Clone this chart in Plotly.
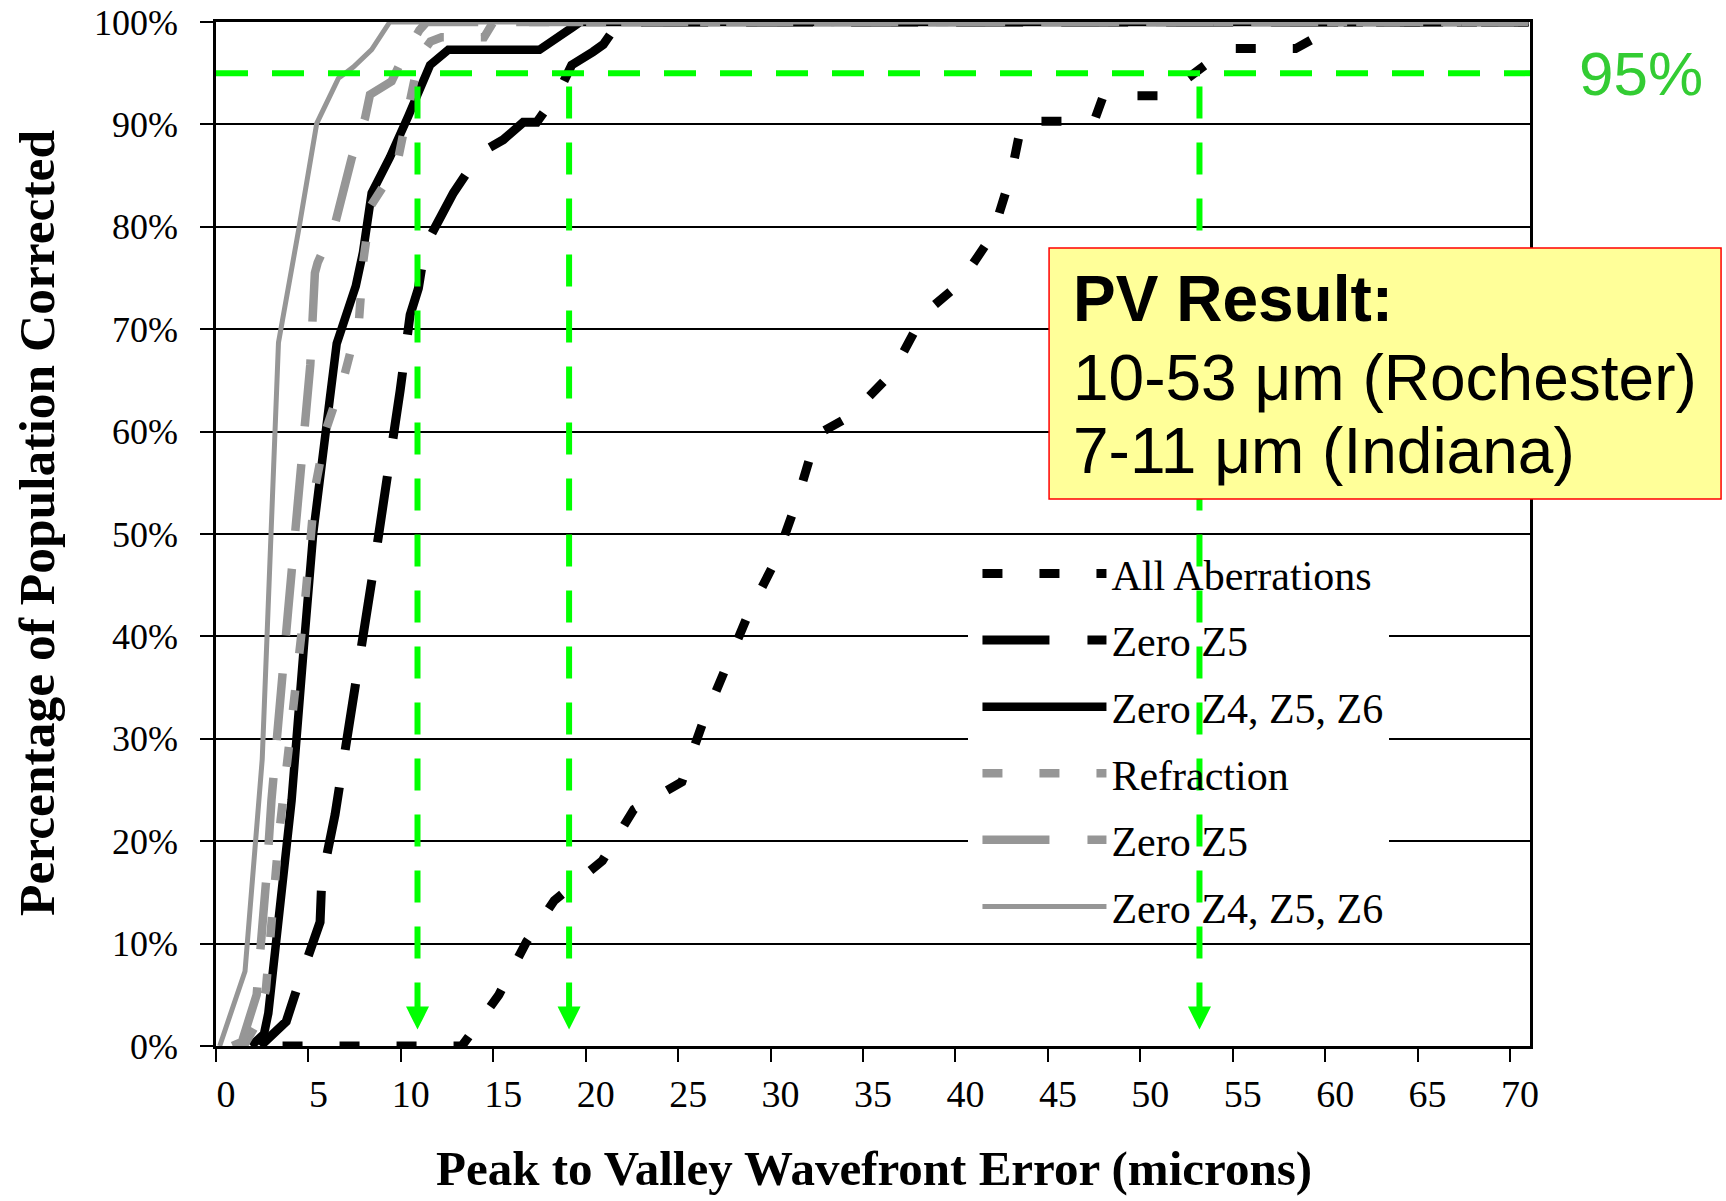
import plotly.graph_objects as go

# ---------------- data ----------------
series_names = ["All Aberrations", "Zero Z5", "Zero Z4, Z5, Z6",
                "Refraction", "Zero Z5", "Zero Z4, Z5, Z6"]

# Rochester – all aberrations (black, short dash)
all_ab_x = [3.6, 13.3, 15.3, 16.8, 18.3, 20.9, 22.6, 25.2, 26.3, 27.5, 28.8, 30.3, 31.4,
            32.5, 34.3, 36.6, 38.3, 40.2, 42.0, 43.0, 43.6, 47.5, 48.0, 51.3, 54.7,
            58.4, 60.5, 61.0, 71.0]
all_ab_y = [0, 0, 5.0, 10.2, 14.2, 18.1, 23.1, 25.8, 31.4, 36.8, 42.2, 47.5, 53.1,
            59.7, 61.5, 65.8, 71.5, 74.4, 79.2, 85.0, 90.3, 90.3, 92.8, 92.8, 97.4,
            97.4, 99.5, 100, 100]

# Rochester – zero Z5 (black, long dash)
roc_z5_x = [2.4, 3.5, 3.8, 4.45, 5.63, 5.72, 6.44, 8.5, 9.41, 9.96, 10.5, 10.95, 11.31,
            12.84, 14.28, 15.54, 16.62, 17.35, 18.6, 19.24, 20.4, 20.95, 21.8, 71.0]
roc_z5_y = [0, 1.7, 2.4, 6.0, 12.1, 16.2, 22.6, 46.3, 56.8, 64.0, 71.4, 74.0, 78.1,
            83.3, 87.2, 88.5, 90.2, 90.2, 93.4, 95.8, 97.1, 97.8, 100, 100]

# Rochester – zero Z4, Z5, Z6 (black, solid)
roc_z456_x = [1.9, 2.6, 2.83, 4.09, 4.81, 5.26, 6.15, 6.53, 7.56, 7.95, 8.42, 9.41,
              10.4, 11.04, 11.58, 12.57, 17.5, 19.3, 19.7, 71.0]
roc_z456_y = [0, 1.2, 3.2, 24.0, 40.3, 50.1, 63.1, 68.6, 74.2, 77.5, 83.3, 86.8,
              90.8, 93.7, 95.8, 97.3, 97.3, 99.5, 100, 100]

# Indiana – refraction (grey, short dash)
ind_refr_x = [1.5, 2.3, 2.7, 3.1, 3.4, 3.78, 4.14, 4.5, 4.81, 5.09, 5.36, 5.99, 6.96,
              7.74, 7.97, 8.39, 9.78, 10.4, 11.0, 11.6, 12.2, 14.5, 15.0, 71.0]
ind_refr_y = [0, 2.5, 5.5, 15.2, 20.5, 26.6, 32.1, 37.8, 43.3, 49.0, 54.5, 60.4, 65.6,
              71.0, 76.7, 82.1, 86.0, 91.5, 96.6, 98.1, 98.5, 98.5, 100, 100]

# Indiana – zero Z5 (grey, long dash)
ind_z5_x = [0.9, 1.4, 2.2, 2.45, 2.75, 3.0, 3.3, 3.9, 4.4, 4.8, 5.1, 5.35, 5.5, 6.44,
            7.34, 8.06, 8.33, 9.5, 10.0, 11.0, 11.4, 71.0]
ind_z5_y = [0, 0.4, 5.0, 10.0, 17.0, 24.0, 31.0, 42.5, 52.5, 61.0, 66.5, 75.5, 76.5,
            80.3, 86.7, 90.6, 92.9, 94.2, 96.1, 99.2, 100, 100]

# Indiana – zero Z4, Z5, Z6 (grey, solid)
ind_z456_x = [0.2, 1.57, 2.5, 3.38, 4.5, 5.45, 6.62, 7.43, 8.42, 9.4, 71.0]
ind_z456_y = [0, 7.3, 28.0, 68.7, 80.0, 90.1, 94.5, 95.6, 97.3, 100, 100]

# 95 % read-off lines
level_95 = 95
pv95_x = [10.9, 19.1, 53.2]

x_ticks = list(range(0, 75, 5))
y_ticks = list(range(0, 110, 10))
y_tick_text = [f"{v}%" for v in y_ticks]

box_lines = ["<b>PV Result:</b>", "10-53 μm (Rochester)", "7-11 μm (Indiana)"]

# ---------------- styling ----------------
BLACK = "#000000"
GREY = "#969696"
GREEN = "#00FF00"
SHORT = "20px,37px"
LONG = "67px,38px"

series = [
    (all_ab_x, all_ab_y, BLACK, SHORT, 9),
    (roc_z5_x, roc_z5_y, BLACK, LONG, 9),
    (roc_z456_x, roc_z456_y, BLACK, "solid", 8.5),
    (ind_refr_x, ind_refr_y, GREY, SHORT, 8.5),
    (ind_z5_x, ind_z5_y, GREY, LONG, 8.5),
    (ind_z456_x, ind_z456_y, GREY, "solid", 5),
]

fig = go.Figure()
for i, (xs, ys, col, dash, w) in enumerate(series):
    fig.add_trace(go.Scatter(
        x=xs, y=ys, mode="lines", name=series_names[i],
        legendgroup=f"g{i}",
        line=dict(color=col, dash=dash, width=w),
        hoverinfo="skip",
    ))

# arrow heads at the bottom of the read-off lines
fig.add_trace(go.Scatter(
    x=pv95_x, y=[1.6] * len(pv95_x), mode="markers", showlegend=False,
    marker=dict(symbol="arrow-down", size=23, color=GREEN, line=dict(width=0)),
    hoverinfo="skip",
))

shapes = []
# white backing of the legend (hides grid lines)
shapes.append(dict(type="rect", xref="paper", yref="paper",
                   x0=0.5723, x1=0.8927, y0=0.1016, y1=0.494,
                   fillcolor="white", line=dict(width=0), layer="above"))
# 95 % horizontal line
shapes.append(dict(type="line", xref="paper", yref="y", x0=0, x1=1,
                   y0=level_95, y1=level_95,
                   line=dict(color=GREEN, width=6, dash="32px,24px"), layer="above"))
for xv in pv95_x:
    shapes.append(dict(type="line", xref="x", yref="y", x0=xv, x1=xv,
                       y0=93.7, y1=3.0,
                       line=dict(color=GREEN, width=6, dash="32px,24px"), layer="above"))
# PV result box
shapes.append(dict(type="rect", xref="paper", yref="paper",
                   x0=0.634, x1=1.1454, y0=0.5342, y1=0.7793,
                   fillcolor="#FFFF99", line=dict(color="#FF0000", width=1.5),
                   layer="above"))

annotations = []
annotations.append(dict(text="95%", xref="paper", yref="y", x=1.0845, y=level_95,
                        xanchor="center", yanchor="middle", showarrow=False,
                        font=dict(family="Liberation Sans", size=62, color="#33CC33")))
box_y = [0.7295, 0.6523, 0.5811]
for t, yy in zip(box_lines, box_y):
    annotations.append(dict(text=t, xref="paper", yref="paper", x=0.6507, y=yy,
                            xanchor="left", yanchor="middle", showarrow=False,
                            font=dict(family="Liberation Sans", size=64, color="black")))
annotations.append(dict(text="<b>Peak to Valley Wavefront Error (microns)</b>",
                        xref="paper", yref="paper", x=0.5008, y=-0.1485,
                        xanchor="center", yanchor="bottom", showarrow=False,
                        font=dict(family="Liberation Serif", size=49, color="black")))
annotations.append(dict(text="<b>Percentage of Population Corrected</b>",
                        xref="paper", yref="paper", x=-0.137, y=0.5107,
                        xanchor="center", yanchor="middle", showarrow=False,
                        textangle=-90,
                        font=dict(family="Liberation Serif", size=51.5, color="black")))

fig.update_layout(
    width=1726, height=1201,
    margin=dict(l=216, r=196, t=22, b=155, autoexpand=False),
    paper_bgcolor="white", plot_bgcolor="white",
    showlegend=True,
    legend=dict(x=0.5795, y=0.4945, xanchor="left", yanchor="top",
                bgcolor="rgba(0,0,0,0)", borderwidth=0,
                traceorder="grouped", tracegroupgap=9, itemwidth=124,
                font=dict(family="Liberation Serif", size=42, color="black")),
    shapes=shapes, annotations=annotations,
)
fig.update_xaxes(range=[0, 71.08], tickvals=x_ticks, ticks="outside", ticklen=13,
                 tickwidth=2, tickcolor="black", showline=True, linecolor="black",
                 linewidth=2.5, mirror=True, showgrid=False, zeroline=False,
                 ticklabelshift=10,
                 tickfont=dict(family="Liberation Serif", size=38, color="black"))
fig.update_yaxes(range=[0, 100], tickvals=y_ticks, ticktext=y_tick_text,
                 ticks="outside", ticklabelstandoff=15,
                 ticklen=13, tickwidth=2, tickcolor="black", showline=True,
                 linecolor="black", linewidth=2.5, mirror=True, showgrid=True,
                 gridcolor="black", gridwidth=2, zeroline=False,
                 tickfont=dict(family="Liberation Serif", size=36, color="black"))

fig.write_html("out.html")
